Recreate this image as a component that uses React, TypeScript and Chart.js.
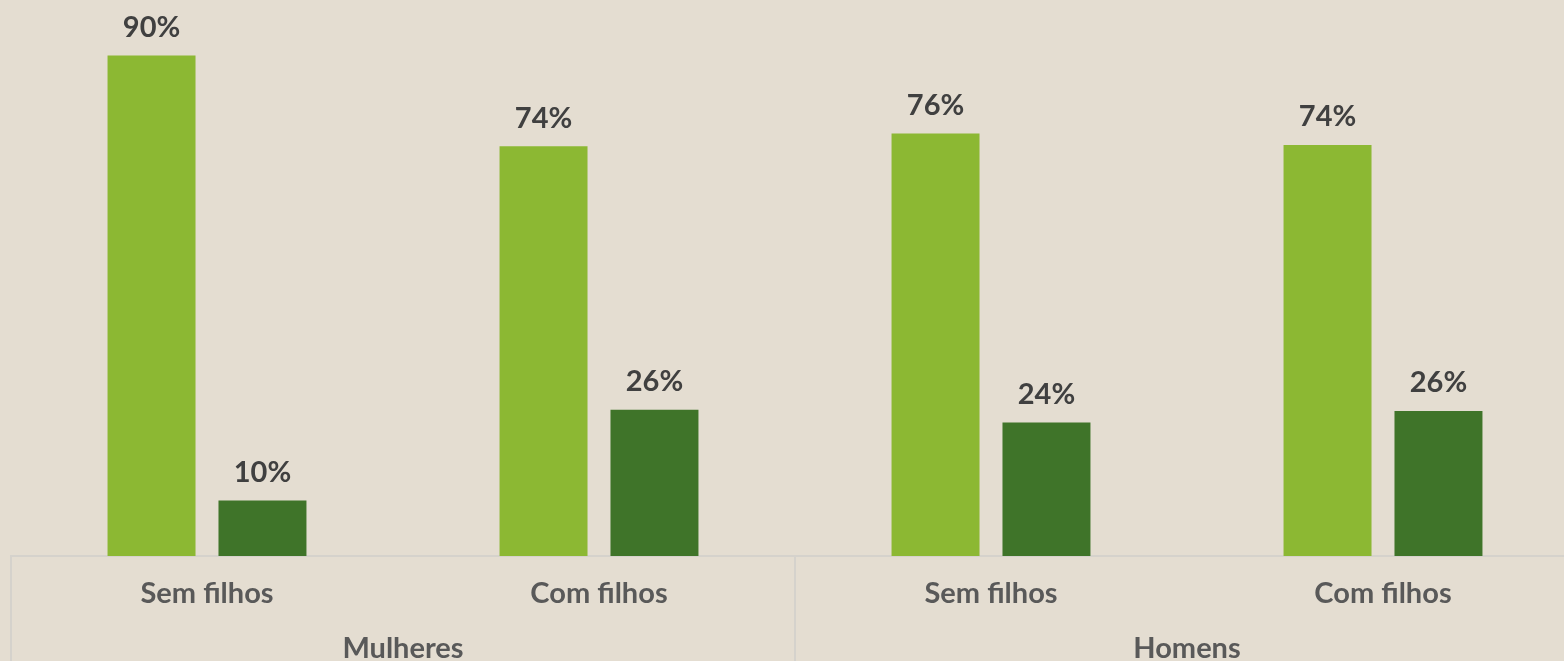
import React, { useEffect, useRef } from "react";
import { Chart, registerables } from "chart.js";

Chart.register(...registerables);

const categories = ["Sem filhos", "Com filhos", "Sem filhos", "Com filhos"];
const groups = ["Mulheres", "Homens"];
const groupSpans = [2, 2];
const seriesA = [90, 73.7, 76, 73.9];
const seriesB = [10, 26.3, 24, 26.1];

const BG = "#E4DDD1";
const LIGHT = "#8CB833";
const DARK = "#3F7429";
const LINE = "#D5D2CC";
const FONT = "Lato, 'Noto Sans', sans-serif";

const bgPlugin = {
  id: "bg",
  beforeDraw(chart: any) {
    const { ctx, width, height } = chart;
    ctx.save();
    ctx.fillStyle = BG;
    ctx.fillRect(0, 0, width, height);
    ctx.restore();
  },
};

const overlayPlugin = {
  id: "overlay",
  afterDatasetsDraw(chart: any) {
    const { ctx } = chart;
    ctx.save();
    ctx.font = `bold 29px ${FONT}`;
    ctx.fillStyle = "#404040";
    ctx.textAlign = "center";
    ctx.textBaseline = "middle";
    chart.data.datasets.forEach((ds: any, di: number) => {
      const meta = chart.getDatasetMeta(di);
      meta.data.forEach((bar: any, i: number) => {
        const v = Math.round(ds.data[i]);
        ctx.fillText(`${v}%`, bar.x, bar.y - 28);
      });
    });
    ctx.restore();
  },
  afterDraw(chart: any) {
    const { ctx, chartArea, height } = chart;
    const x = chart.scales.x;
    ctx.save();
    ctx.strokeStyle = LINE;
    ctx.lineWidth = 2;
    const half = (x.getPixelForValue(1) - x.getPixelForValue(0)) / 2;
    let idx = 0;
    const bounds: number[] = [chartArea.left];
    groupSpans.forEach((n) => {
      idx += n;
      bounds.push(x.getPixelForValue(idx - 1) + half);
    });
    bounds.forEach((bx) => {
      ctx.beginPath();
      ctx.moveTo(bx, chartArea.bottom);
      ctx.lineTo(bx, height);
      ctx.stroke();
    });
    ctx.font = `bold 29px ${FONT}`;
    ctx.fillStyle = "#595959";
    ctx.textAlign = "center";
    ctx.textBaseline = "middle";
    groups.forEach((g, gi) => {
      const cx = (bounds[gi] + bounds[gi + 1]) / 2;
      ctx.fillText(g, cx, chartArea.bottom + 93);
    });
    ctx.restore();
  },
};

export default function App() {
  const ref = useRef<HTMLCanvasElement | null>(null);
  useEffect(() => {
    document.body.style.margin = "0";
    document.body.style.background = BG;
    document.body.style.overflow = "hidden";
    const chart = new Chart(ref.current!, {
      type: "bar",
      data: {
        labels: categories,
        datasets: [
          { data: seriesA, backgroundColor: LIGHT, categoryPercentage: 0.566, barPercentage: 0.793 },
          { data: seriesB, backgroundColor: DARK, categoryPercentage: 0.566, barPercentage: 0.793 },
        ],
      },
      options: {
        animation: false,
        responsive: false,
        maintainAspectRatio: false,
        layout: { padding: { left: 11, right: 1, top: 0, bottom: 0 } },
        plugins: { legend: { display: false }, tooltip: { enabled: false } },
        scales: {
          x: {
            grid: { display: false },
            border: { display: true, color: LINE, width: 2 },
            afterFit: (scale: any) => {
              scale.height = 105;
            },
            ticks: {
              autoSkip: false,
              maxRotation: 0,
              padding: 12,
              color: "#595959",
              font: { family: FONT, size: 29, weight: "bold" },
            },
          },
          y: { display: false, min: 0, max: 100 },
        },
      },
      plugins: [bgPlugin, overlayPlugin],
    });
    return () => chart.destroy();
  }, []);
  return (
    <div style={{ width: 1564, height: 661, overflow: "hidden", position: "relative" }}>
      <canvas ref={ref} width={1580} height={661} style={{ display: "block" }} />
    </div>
  );
}
